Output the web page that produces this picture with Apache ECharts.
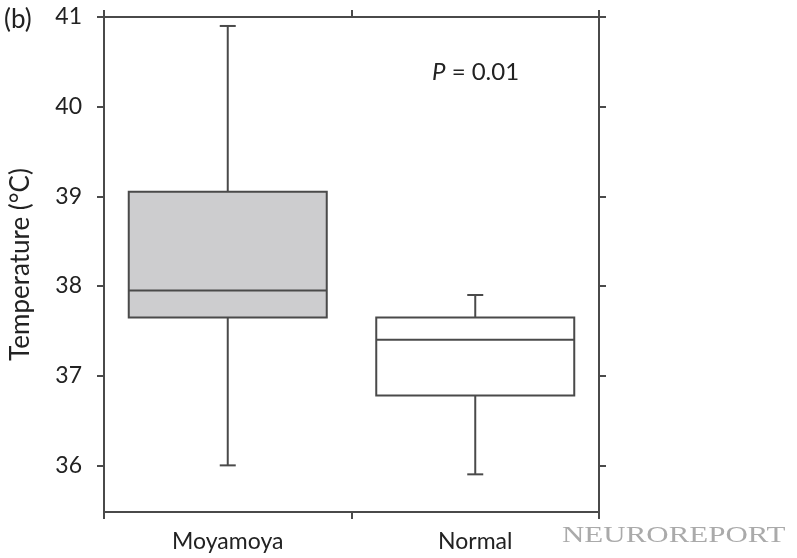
<!DOCTYPE html>
<html>
<head>
<meta charset="utf-8">
<script src="https://cdn.jsdelivr.net/npm/echarts@6/dist/echarts.min.js"></script>
<style>html,body{margin:0;padding:0;background:#fff;}#c{width:797px;height:558px;}</style>
</head>
<body>
<div id="c"></div>
<script>
// ---- data ----
const categories = ['Moyamoya', 'Normal'];
const whiskerLow = [36.0, 35.9];
const q1Values = [37.65, 36.78];
const medianValues = [37.95, 37.4];
const q3Values = [39.05, 37.65];
const whiskerHigh = [40.9, 37.9];
const yTicks = [36, 37, 38, 39, 40, 41];
const yMin = 35.48, yMax = 41;

// ---- styles ----
const lineColor = '#4a4a4a';
const fills = ['#cdcdcf', '#ffffff'];
const font = 'Lato, "Open Sans", sans-serif';

const boxData = categories.map((c, i) => [i, whiskerLow[i], q1Values[i], medianValues[i], q3Values[i], whiskerHigh[i]]);

const chart = echarts.init(document.getElementById('c'), null, {renderer: 'canvas'});

function renderBox(params, api) {
  const idx = api.value(0);
  const band = api.size([1, 0])[0];
  const half = band * 0.4;
  const cap = 8;
  const pMin = api.coord([idx, api.value(1)]);
  const pQ1 = api.coord([idx, api.value(2)]);
  const pMed = api.coord([idx, api.value(3)]);
  const pQ3 = api.coord([idx, api.value(4)]);
  const pMax = api.coord([idx, api.value(5)]);
  const x = pMed[0];
  const ls = {stroke: lineColor, lineWidth: 2};
  return {
    type: 'group',
    children: [
      {type: 'line', shape: {x1: x, y1: pMax[1], x2: x, y2: pQ3[1]}, style: ls},
      {type: 'line', shape: {x1: x, y1: pQ1[1], x2: x, y2: pMin[1]}, style: ls},
      {type: 'line', shape: {x1: x - cap, y1: pMax[1], x2: x + cap, y2: pMax[1]}, style: ls},
      {type: 'line', shape: {x1: x - cap, y1: pMin[1], x2: x + cap, y2: pMin[1]}, style: ls},
      {type: 'rect', shape: {x: x - half, y: pQ3[1], width: half * 2, height: pQ1[1] - pQ3[1]},
        style: {fill: fills[idx], stroke: lineColor, lineWidth: 2}},
      {type: 'line', shape: {x1: x - half, y1: pMed[1], x2: x + half, y2: pMed[1]}, style: ls}
    ]
  };
}

const axisLineStyle = {show: true, lineStyle: {color: lineColor, width: 2}};
const tickStyle = {show: true, inside: false, length: 7, lineStyle: {color: lineColor, width: 2}};

chart.setOption({
  animation: false,
  backgroundColor: '#ffffff',
  grid: {left: 104, right: 198, top: 17, bottom: 46, containLabel: false},
  xAxis: [
    {type: 'category', data: categories, position: 'bottom', boundaryGap: true,
      axisLine: axisLineStyle, axisTick: Object.assign({interval: 0}, tickStyle),
      axisLabel: {fontSize: 23, color: '#222', margin: 18, fontFamily: font},
      splitLine: {show: false}},
    {type: 'category', data: categories, position: 'top', boundaryGap: true,
      axisLine: axisLineStyle, axisTick: Object.assign({interval: 0}, tickStyle),
      axisLabel: {show: false}, splitLine: {show: false}}
  ],
  yAxis: [
    {type: 'value', min: yMin, max: yMax, position: 'left',
      name: 'Temperature (°C)', nameLocation: 'middle', nameGap: 70, nameRotate: 90,
      nameTextStyle: {fontSize: 26, color: '#222', fontFamily: font},
      axisLine: axisLineStyle,
      axisTick: Object.assign({customValues: yTicks}, tickStyle),
      axisLabel: {customValues: yTicks, fontSize: 23, color: '#222', margin: 22, fontFamily: font},
      splitLine: {show: false}},
    {type: 'value', min: yMin, max: yMax, position: 'right',
      axisLine: axisLineStyle,
      axisTick: Object.assign({customValues: yTicks}, tickStyle),
      axisLabel: {show: false}, splitLine: {show: false}}
  ],
  series: [{
    type: 'custom',
    xAxisIndex: 0, yAxisIndex: 0,
    data: boxData,
    encode: {x: 0, y: [1, 2, 3, 4, 5]},
    renderItem: renderBox
  }],
  graphic: [
    {type: 'text', left: 4, top: 7, style: {text: '(b)', fontSize: 26, fill: '#222', fontFamily: font}},
    {type: 'text', left: 432, top: 60, style: {
      text: '{i|P} = 0.01', fontSize: 24, fill: '#222', fontFamily: font,
      rich: {i: {fontStyle: 'italic', fontSize: 24, fontFamily: font, fill: '#222'}}}},
    {type: 'text', x: 562, y: 524, scaleX: 1.29, style: {text: 'NEUROREPORT', fontSize: 24, fill: '#aaaaaa',
      fontFamily: '"Liberation Serif", "DejaVu Serif", serif'}}
  ]
});
</script>
</body>
</html>
